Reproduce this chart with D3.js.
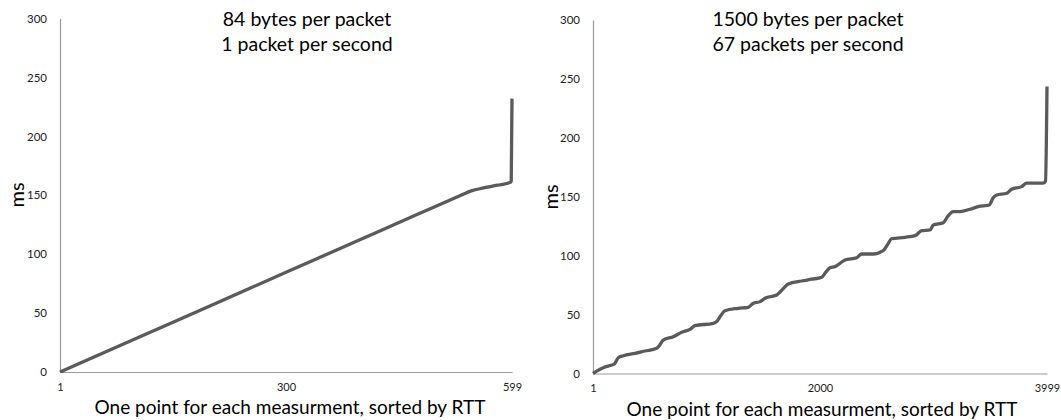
<!DOCTYPE html>
<html>
<head>
<meta charset="utf-8">
<script src="https://cdn.jsdelivr.net/npm/d3@7"></script>
<style>
  html, body { margin: 0; padding: 0; background: #fff; }
  svg { display: block; }
  text { font-family: Lato, "Open Sans", sans-serif; fill: #000; }
</style>
</head>
<body>
<svg id="chart" width="1061" height="420"></svg>
<script>
// ---- Data ----
const yTickValues = [0, 50, 100, 150, 200, 250, 300];

const leftTitle = ["84 bytes per packet", "1 packet per second"];
const leftXTicks = [1, 300, 599];
const leftIdx = [1, 100, 200, 300, 400, 477, 530, 546, 560, 580, 597, 598, 599];
const leftMs  = [0, 28, 56.3, 84.6, 112.9, 134.7, 149.5, 153.9, 156, 158.5, 161, 162, 232];

const rightTitle = ["1500 bytes per packet", "67 packets per second"];
const rightXTicks = [1, 2000, 3999];
const rightIdx = [1, 63, 92, 166, 190, 224, 268, 371, 459, 562, 582, 620, 708, 782, 855, 899,
  1060, 1090, 1124, 1163, 1280, 1368, 1413, 1472, 1516, 1619, 1657, 1721, 1839, 1927, 2015,
  2053, 2088, 2132, 2220, 2323, 2367, 2469, 2557, 2599, 2631, 2749, 2837, 2896, 2969, 2998,
  3086, 3127, 3174, 3233, 3321, 3394, 3491, 3524, 3556, 3644, 3688, 3776, 3820, 3966, 3986, 3999];
const rightMs = [0, 3.6, 4.9, 7.2, 8.1, 13.4, 15.1, 17.1, 19.1, 21.4, 23.3, 28.4, 31.2, 35, 37.5, 40.6,
  42.6, 44, 48.8, 53.3, 55.3, 56.2, 59.6, 61, 63.8, 66.6, 70, 76, 78.5, 80, 81.7,
  86.2, 89.8, 90.7, 96.3, 98.3, 101.4, 101.4, 104.2, 110, 114.4, 115.6, 117, 121.2, 121.8, 126,
  128, 133.7, 137.4, 137.4, 139.4, 141.6, 143, 149, 151.5, 153, 156.4, 158.6, 161.5, 161.5, 163.4, 243.6];

const xAxisTitle = "One point for each measurment, sorted by RTT";
const yAxisTitle = "ms";

// ---- Drawing ----
const svg = d3.select("#chart");

function panel(cfg) {
  const g = svg.append("g");
  const x = d3.scaleLinear().domain(cfg.xDomain).range([cfg.x0, cfg.x1]);
  const y = d3.scaleLinear().domain([0, 300]).range([cfg.yBottom, cfg.yTop]);

  // y axis
  const ya = g.append("g").attr("transform", `translate(${cfg.x0},0)`)
    .call(d3.axisLeft(y).tickValues(yTickValues).tickSize(0).tickPadding(13).tickFormat(d3.format("d")));
  ya.select(".domain").attr("stroke", "#9a9a9a").attr("stroke-width", 1.2);
  ya.selectAll("text").style("font-size", "11.5px").style("fill", "#222").style("font-family", "Lato, sans-serif");

  // x axis
  const xa = g.append("g").attr("transform", `translate(0,${cfg.yBottom})`)
    .call(d3.axisBottom(x).tickValues(cfg.xTicks).tickSize(0).tickPadding(cfg.xTickPad).tickFormat(d3.format("d")));
  xa.select(".domain").attr("stroke", "#9a9a9a").attr("stroke-width", 1.2);
  xa.selectAll("text").style("font-size", "11px").style("fill", "#222").style("font-family", "Lato, sans-serif");

  // line
  const pts = cfg.idx.map((d, i) => [d, cfg.ms[i]]);
  g.append("path")
    .datum(pts)
    .attr("fill", "none")
    .attr("stroke", "#5a5a5a")
    .attr("stroke-width", 3.3)
    .attr("stroke-linejoin", "round")
    .attr("d", d3.line().x(d => x(d[0])).y(d => y(d[1])).curve(d3.curveMonotoneX));

  // title
  cfg.title.forEach((t, i) => {
    g.append("text")
      .attr("x", cfg.titleX).attr("y", cfg.titleY + i * 25)
      .attr("text-anchor", "middle")
      .style("font-size", "19.5px")
      .text(t);
  });

  // x axis title
  g.append("text")
    .attr("x", cfg.xTitleX).attr("y", cfg.xTitleY)
    .attr("text-anchor", "middle")
    .style("font-size", "19px")
    .text(xAxisTitle);

  // y axis title
  g.append("text")
    .attr("transform", `translate(${cfg.yTitleX},${cfg.yTitleY}) rotate(-90)`)
    .attr("text-anchor", "middle")
    .style("font-size", "20px")
    .text(yAxisTitle);
}

panel({
  xDomain: [1, 599], x0: 60, x1: 512, yBottom: 372, yTop: 18.5,
  xTicks: leftXTicks, xTickPad: 11, idx: leftIdx, ms: leftMs,
  title: leftTitle, titleX: 307, titleY: 26,
  xTitleX: 290, xTitleY: 414, yTitleX: 24, yTitleY: 195
});

panel({
  xDomain: [1, 3999], x0: 593, x1: 1047, yBottom: 373.5, yTop: 20,
  xTicks: rightXTicks, xTickPad: 11, idx: rightIdx, ms: rightMs,
  title: rightTitle, titleX: 808, titleY: 26,
  xTitleX: 822, xTitleY: 415.5, yTitleX: 558, yTitleY: 197
});
</script>
</body>
</html>
